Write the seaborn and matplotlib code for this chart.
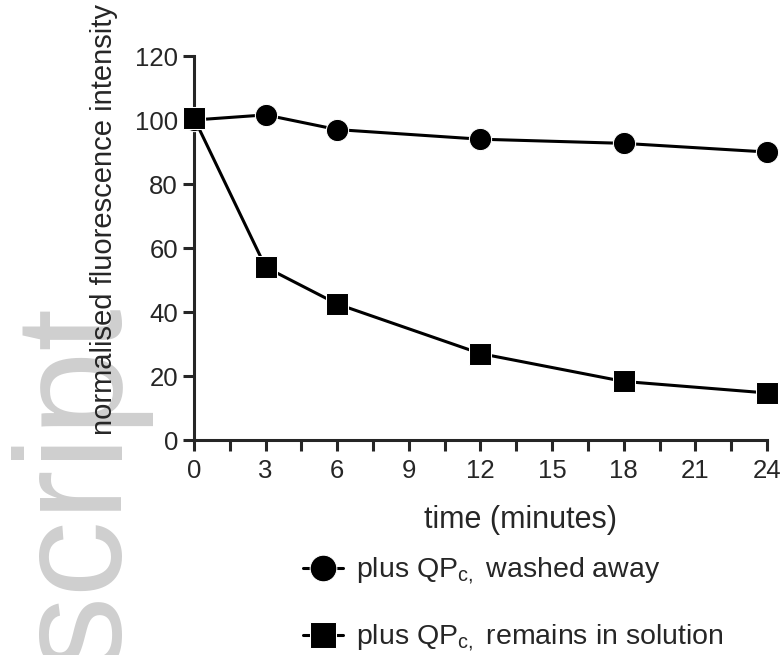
import numpy as np
import pandas as pd
import matplotlib
matplotlib.use('Agg')
import matplotlib.pyplot as plt
from matplotlib.ticker import MultipleLocator
import seaborn as sns

# datos
tiempo = [0, 3, 6, 12, 18, 24]
lavado = [100, 101.6, 97, 94, 92.7, 90]
en_solucion = [100.6, 54, 42.5, 27, 18.3, 14.7]
etiquetas = ['plus QP$_\\mathregular{c,}$ washed away',
             'plus QP$_\\mathregular{c,}$ remains in solution']

sns.set_style('ticks')
plt.rcParams['font.family'] = ['Liberation Sans', 'DejaVu Sans']
plt.rcParams['mathtext.fontset'] = 'custom'
plt.rcParams['mathtext.rm'] = 'Liberation Sans'

fig = plt.figure(figsize=(7.83, 6.55), dpi=100)

# marca de agua (detras de todo)
fig.text(118 / 783, -0.02, 'script', rotation=90, rotation_mode='anchor',
         fontsize=110, color='#cfcfcf', ha='left', va='baseline', zorder=-5)

ax = fig.add_axes([194 / 783, 215 / 655, 573 / 783, 384 / 655])
ax.patch.set_alpha(0)

sns.lineplot(x=tiempo, y=lavado, ax=ax, color='black', marker='o', markersize=16,
             linewidth=2.2, label=etiquetas[0], clip_on=False, zorder=3)
sns.lineplot(x=tiempo, y=en_solucion, ax=ax, color='black', marker='s', markersize=16,
             linewidth=2.2, label=etiquetas[1], clip_on=False, zorder=4)

ax.set_xlim(0, 24)
ax.set_ylim(0, 120)
ax.xaxis.set_major_locator(MultipleLocator(3))
ax.xaxis.set_minor_locator(MultipleLocator(1.5))
ax.yaxis.set_major_locator(MultipleLocator(20))
sns.despine(ax=ax)
for s in ['left', 'bottom']:
    ax.spines[s].set_linewidth(2.2)
ax.tick_params(which='both', length=8, width=2.2, direction='out', labelsize=18.5)
ax.tick_params(axis='x', which='both', pad=5.5)
ax.tick_params(axis='y', pad=3.5)
ax.set_xlabel('time (minutes)', fontsize=22)
ax.xaxis.set_label_coords(0.569, -0.168)
ax.xaxis.label.set_va('top')
ax.set_ylabel('normalised fluorescence intensity', fontsize=21)
ax.yaxis.set_label_coords(-0.133, 0.575)

h, l = ax.get_legend_handles_labels()
ax.get_legend().remove()
fig.legend(h, l, loc='center left', bbox_to_anchor=(292 / 783, 1 - 605 / 655),
           frameon=False, fontsize=20.5, labelspacing=1.25, handlelength=1.4,
           handletextpad=0.45, markerscale=1.2, borderaxespad=0)

fig.savefig('out.png', dpi=100)
